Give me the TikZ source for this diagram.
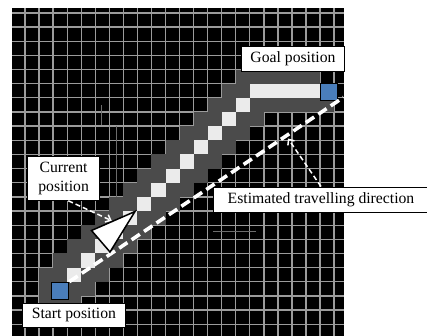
\documentclass[tikz,border=0pt]{standalone}
\usepackage{fontspec}
\setmainfont{Liberation Serif}
\usetikzlibrary{arrows.meta}
\definecolor{gridc}{RGB}{155,155,155}
\definecolor{bandc}{RGB}{75,75,75}
\definecolor{pathc}{RGB}{235,235,235}
\definecolor{bluec}{RGB}{74,126,187}
\newcommand{\gcell}[3]{\fill[#1] ({10.95+14.05*#2},{-1.25+14.15*#3}) rectangle ++(14.05,14.15);}
\tikzset{
  gridline/.style={draw=gridc, line width=1.3bp},
  artline/.style={draw=gridc!70!black, line width=0.7bp},
  bluesq/.style={draw=black, line width=1.2bp, fill=bluec, inner sep=0pt, minimum size=17.5bp},
  mainline/.style={draw=white, line width=3.6bp, dash pattern=on 10bp off 5bp},
  thinarrow/.style={draw=white, line width=1.5bp, dash pattern=on 5bp off 3bp, -{Straight Barb[length=4.5bp,width=8bp]}},
  lbl/.style={draw=black, fill=white, line width=1bp, inner sep=0pt, align=center,
    font=\fontsize{15.7bp}{18.5bp}\selectfont},
}
\begin{document}
\begin{tikzpicture}[x=1bp, y=-1bp]
\useasboundingbox (0,0) rectangle (427,336);
\clip (0,0) rectangle (427,336);
% black field
\fill[black] (12,8) rectangle (343.5,336);
% grid
\foreach \k in {0,...,22} {
  \draw[gridline] ({25+14.05*\k},8) -- ({25+14.05*\k},336);
  \draw[gridline] (12,{12.9+14.15*\k}) -- (343.5,{12.9+14.15*\k});
}
% faint stray lines
\draw[artline] (101.7,105) -- (101.7,125);
\draw[artline] (116.5,126) -- (116.5,199);
\draw[artline] (213,231.3) -- (256,231.3);
% dark band
\foreach \r/\a/\b in {5/16/21, 6/15/16, 7/14/22, 8/13/17, 9/12/16, 10/11/15, 11/10/14,
  12/9/13, 13/8/12, 14/7/11, 15/6/10, 16/5/9, 17/4/8, 18/3/7, 19/2/6, 20/2/5, 21/2/4} {
  \foreach \c in {\a,...,\b} {\gcell{bandc}{\c}{\r}}
}
% travelled path
\foreach \c [evaluate=\c as \r using int(23-\c)] in {4,...,16} {\gcell{pathc}{\c}{\r}}
\foreach \c in {17,...,21} {\gcell{pathc}{\c}{6}}
% start and goal
\node[bluesq] (start) at (60,291) {};
\node[bluesq, minimum size=17bp] (goal) at (329.3,92.3) {};
% estimated direction
\coordinate (dirend) at (343.5,97.3);
\draw[mainline] (start.north east) -- (dirend);
% current position marker
\coordinate (t1) at (135,211.5);
\coordinate (t2) at (91.5,230.5);
\coordinate (t3) at (110,252);
\draw[fill=white, line width=1.5bp, line join=miter] (t1) -- (t2) -- (t3) -- cycle;
% labels
\node[lbl, minimum width=103.4bp, minimum height=25bp] (goallbl) at (293,59.2) {Goal position};
\node[lbl, minimum width=102.3bp, minimum height=24bp] (startlbl) at (73.9,315.2) {Start position};
\node[lbl, minimum width=72.7bp, minimum height=43.3bp] (cur) at (63.6,178.6) {Current\\position};
\node[lbl, minimum width=214bp, minimum height=25.5bp] (est) at (321,199.8) {Estimated travelling direction};
% pointers
\coordinate (curtip) at (111.7,220.7);
\coordinate (esttip) at (288,138.5);
\draw[thinarrow] ([xshift=4.7bp]cur.south) -- (curtip);
\draw[thinarrow] (est.north) -- (esttip);
\end{tikzpicture}
\end{document}
